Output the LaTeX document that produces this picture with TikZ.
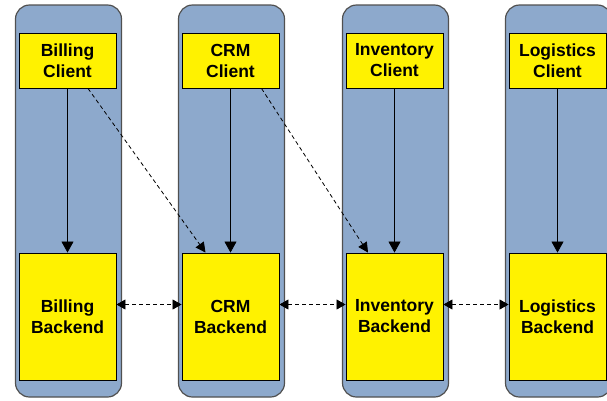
\documentclass[tikz,border=0pt]{standalone}
\usepackage{fontspec}
\setmainfont{Liberation Sans}
\usepackage{tikz}
\usetikzlibrary{arrows.meta, positioning, calc}

\definecolor{lanefill}{RGB}{141,169,204}
\definecolor{laneline}{RGB}{80,80,80}

\begin{document}
\begin{tikzpicture}[
  x=1pt, y=-1pt,
  >={Triangle[length=11pt, width=12pt]},
  every node/.style={font=\bfseries\fontsize{17.5}{21}\selectfont},
  % --- box styles ---
  lane/.style={
    draw=laneline, line width=1.2pt, fill=lanefill, rounded corners=14pt,
    minimum width=106pt, minimum height=392pt,
  },
  clientbox/.style={
    draw=black, line width=0.9pt, fill=yellow, align=center,
    minimum width=97pt, minimum height=55pt, inner sep=0pt,
  },
  backbox/.style={
    draw=black, line width=0.9pt, fill=yellow, align=center,
    minimum width=97pt, minimum height=127pt, inner sep=0pt,
  },
  call/.style={->, line width=0.8pt},
  link/.style={-{Triangle[length=10pt, width=10pt]}, line width=0.8pt,
    dash pattern=on 4pt off 3pt},
  sync/.style={{Triangle[length=9pt, width=10pt]}-{Triangle[length=9pt, width=10pt]},
    line width=0.8pt, dash pattern=on 4pt off 3pt},
]

\useasboundingbox (0,0) rectangle (607,400);
\clip (0,0) rectangle (607,400);

% ---------- one lane per system: client on top, backend below ----------
\foreach \n/\x/\name in {bill/67.5/Billing, crm/230.5/CRM,
                         inv/394.5/Inventory, log/557.5/Logistics} {
  \node[lane] (\n-lane) at (\x+1, 201) {};
  \node[clientbox] (\n-cl) at (\x, 60.5) {\name\\Client};
  \node[backbox]   (\n-be) at (\x, 316.5) {\name\\Backend};
  \draw[call] (\n-cl.south) -- (\n-be.north);
}

% ---------- client to neighbouring backend ----------
\draw[link] ([xshift=20.5]bill-cl.south) -- ([xshift=-25]crm-be.north);
\draw[link] ([xshift=31]crm-cl.south) -- ([xshift=-26.5]inv-be.north);

% ---------- backend to backend ----------
\draw[sync] ([yshift=12]bill-be.east) -- ([yshift=12]crm-be.west);
\draw[sync] ([yshift=12]crm-be.east) -- ([yshift=12]inv-be.west);
\draw[sync] ([yshift=12]inv-be.east) -- ([yshift=12]log-be.west);

\end{tikzpicture}
\end{document}
